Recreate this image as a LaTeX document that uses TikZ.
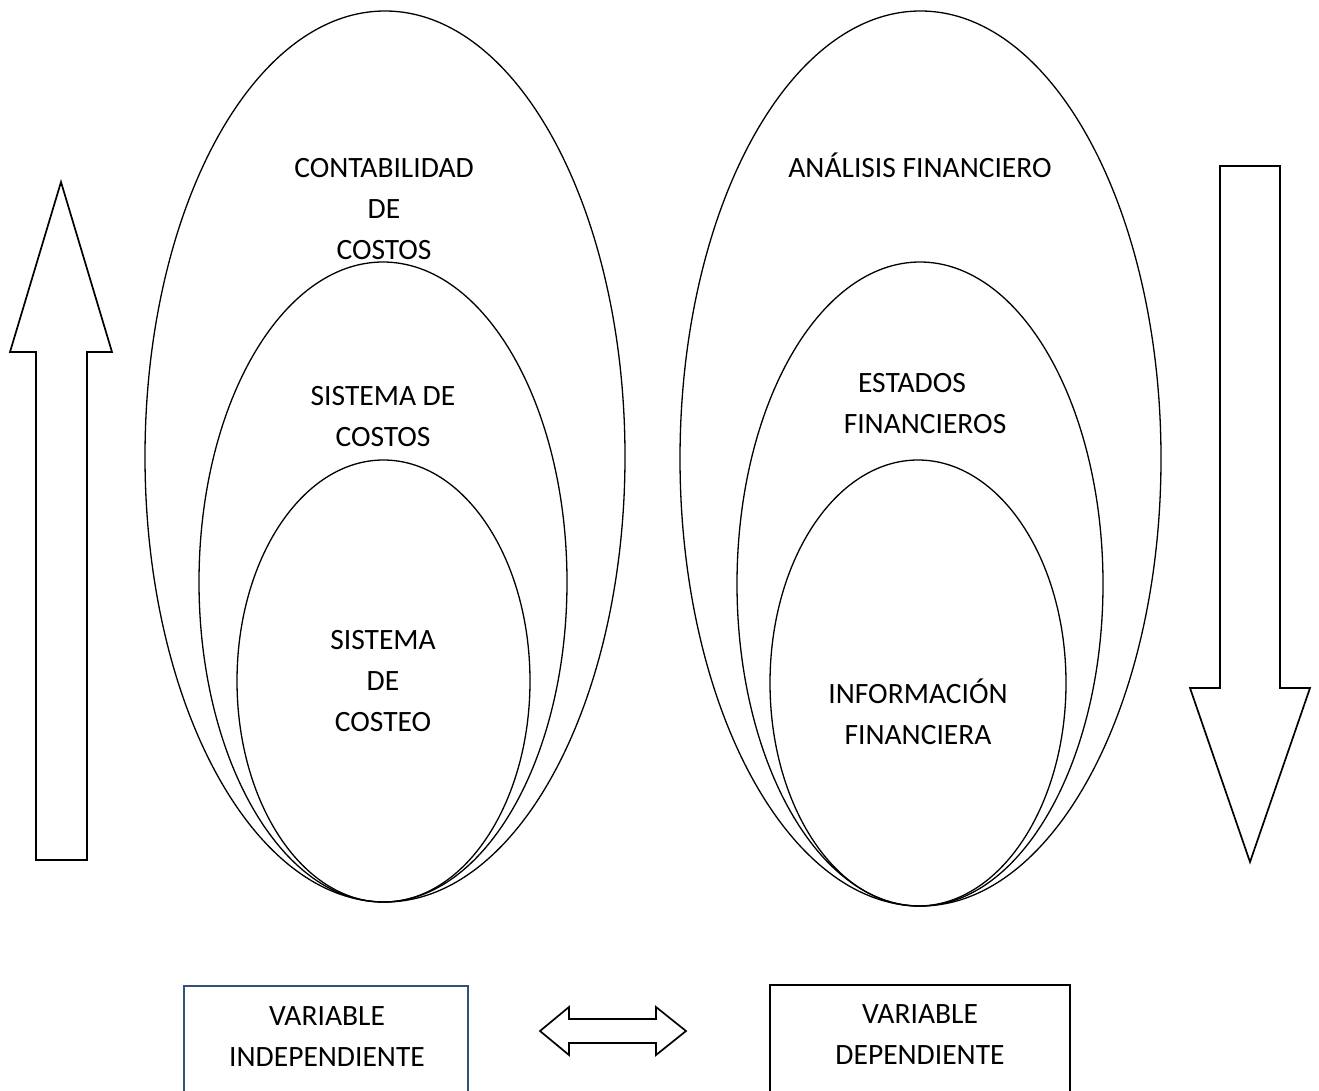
\documentclass[tikz,border=0pt]{standalone}
\usepackage{fontspec}
\setmainfont{Carlito}
\usetikzlibrary{shapes.geometric}
\definecolor{boxblue}{RGB}{50,80,120}
\begin{document}
\begin{tikzpicture}[x=1pt,y=-1pt,
  ring/.style={draw, ellipse, line width=1.3pt, inner sep=0pt},
  lbl/.style={font=\fontsize{29.5}{41}\selectfont, align=center, inner sep=0pt},
  blockarrow/.style={draw, line width=1.7pt, line join=miter},
  varbox/.style={draw, line width=1.6pt, inner sep=0pt, minimum height=134pt}]
\useasboundingbox[fill=white] (0,0) rectangle (1319,1090);

% nested sets on the cost side
\node[ring, minimum width=480pt, minimum height=891pt] (costOuter) at (385,456.5) {};
\node[ring, minimum width=368pt, minimum height=640pt] (costMid) at (383,582) {};
\node[ring, minimum width=293pt, minimum height=442pt] (costInner) at (383.5,681) {};

% nested sets on the financial side
\node[ring, minimum width=481pt, minimum height=895pt] (finOuter) at (920.5,458.5) {};
\node[ring, minimum width=366pt, minimum height=644pt] (finMid) at (920,584) {};
\node[ring, minimum width=296pt, minimum height=446pt] (finInner) at (918,683) {};

% labels of the sets
\node[lbl] (tCont) at (384,209) {CONTABILIDAD\\DE\\COSTOS};
\node[lbl] (tSist) at (383,416.5) {SISTEMA DE\\COSTOS};
\node[lbl] (tCosteo) at (383,681) {SISTEMA\\DE\\COSTEO};
\node[lbl, anchor=base] (tAnal) at (920,177) {ANÁLISIS FINANCIERO};
\node[lbl] (tEst) at (925,403.5) {ESTADOS\hspace*{26pt}\\FINANCIEROS};
\node[lbl] (tInfo) at (918,711.5) {INFORMACIÓN\\FINANCIERA};

% upward block arrow
\draw[blockarrow] (61,182) -- (112,352) -- (87,352) -- (87,860) -- (36,860)
  -- (36,352) -- (10,352) -- cycle;
% downward block arrow
\draw[blockarrow] (1220,166) -- (1280,166) -- (1280,688) -- (1310,688)
  -- (1250,862) -- (1190,688) -- (1220,688) -- cycle;

% variable boxes
\node[varbox, draw=boxblue, minimum width=284pt] (indep) at (326,1053) {};
\node[varbox, minimum width=300pt] (dep) at (920,1052) {};
\node[lbl] (tIndep) at (327,1036.5) {VARIABLE\\INDEPENDIENTE};
\node[lbl] (tDep) at (920,1035) {VARIABLE\\DEPENDIENTE};

% two-headed block arrow between the boxes
\draw[blockarrow] (540,1031) -- (569,1007) -- (569,1019) -- (656,1019)
  -- (656,1007) -- (686,1031) -- (656,1055) -- (656,1043) -- (569,1043)
  -- (569,1055) -- cycle;
\end{tikzpicture}
\end{document}
